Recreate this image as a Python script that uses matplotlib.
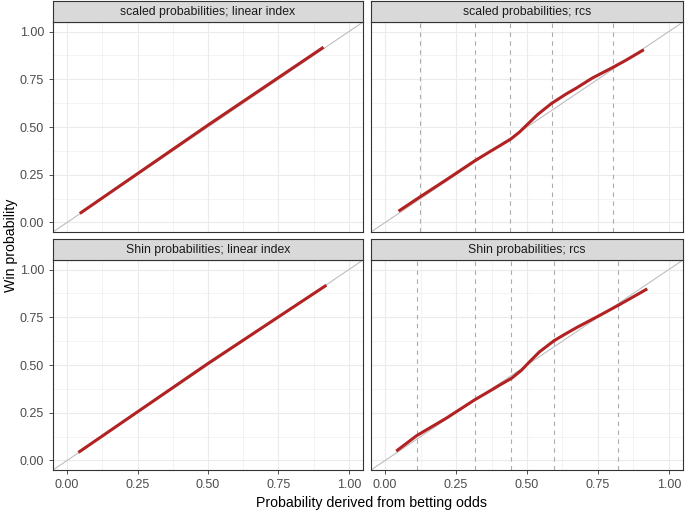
import numpy as np
import matplotlib.pyplot as plt
from matplotlib.ticker import MultipleLocator

plt.rcParams['font.family'] = ['Liberation Sans', 'DejaVu Sans']

titles = ['scaled probabilities; linear index', 'scaled probabilities; rcs',
          'Shin probabilities; linear index', 'Shin probabilities; rcs']

# fitted curves
lin_scaled_x = [0.045, 0.50, 0.910]
lin_scaled_y = [0.047, 0.510, 0.918]
lin_shin_x = [0.040, 0.50, 0.920]
lin_shin_y = [0.042, 0.508, 0.918]

rcs_scaled_x = [0.047, 0.123, 0.216, 0.316, 0.368, 0.404, 0.443, 0.474, 0.503,
                0.538, 0.586, 0.637, 0.673, 0.731, 0.801, 0.848, 0.912]
rcs_scaled_y = [0.059, 0.134, 0.224, 0.323, 0.370, 0.402, 0.437, 0.474, 0.516,
                0.566, 0.623, 0.672, 0.703, 0.757, 0.811, 0.849, 0.905]
rcs_shin_x = [0.039, 0.111, 0.216, 0.316, 0.368, 0.404, 0.446, 0.480, 0.509,
              0.544, 0.596, 0.637, 0.676, 0.754, 0.822, 0.883, 0.924]
rcs_shin_y = [0.049, 0.130, 0.222, 0.318, 0.363, 0.395, 0.431, 0.472, 0.517,
              0.569, 0.628, 0.664, 0.697, 0.758, 0.813, 0.864, 0.899]

knots_scaled = [0.123, 0.316, 0.439, 0.587, 0.804]
knots_shin = [0.111, 0.316, 0.445, 0.596, 0.822]

curves = [(lin_scaled_x, lin_scaled_y, None), (rcs_scaled_x, rcs_scaled_y, knots_scaled),
          (lin_shin_x, lin_shin_y, None), (rcs_shin_x, rcs_shin_y, knots_shin)]

W, H = 685, 514
fig = plt.figure(figsize=(W / 100, H / 100), dpi=100)

lefts = [53, 371]
widths = [310, 312]
tops = [22, 260]
height = 210
strip_h = 21

for i, (cx, cy, knots) in enumerate(curves):
    r, c = divmod(i, 2)
    x0, w = lefts[c], widths[c]
    y0 = tops[r]
    ax = fig.add_axes([x0 / W, 1 - (y0 + height) / H, w / W, height / H])
    ax.set_xlim(-0.05, 1.05)
    ax.set_ylim(-0.05, 1.05)
    ax.xaxis.set_major_locator(MultipleLocator(0.25))
    ax.yaxis.set_major_locator(MultipleLocator(0.25))
    ax.xaxis.set_minor_locator(MultipleLocator(0.125))
    ax.yaxis.set_minor_locator(MultipleLocator(0.125))
    ax.grid(which='major', color='#EBEBEB', linewidth=0.8)
    ax.grid(which='minor', color='#EBEBEB', linewidth=0.4)
    ax.set_axisbelow(True)
    for s in ax.spines.values():
        s.set_color('#333333')
        s.set_linewidth(0.8)
    ax.tick_params(which='minor', length=0)
    ax.tick_params(which='major', length=3, width=0.6, color='#333333',
                   labelcolor='#4D4D4D', labelsize=9)
    if c == 0:
        ax.yaxis.set_major_formatter(lambda v, p: f'{v:.2f}')
    else:
        ax.tick_params(axis='y', length=0, labelleft=False)
    if r == 1:
        ax.xaxis.set_major_formatter(lambda v, p: f'{v:.2f}')
    else:
        ax.tick_params(axis='x', length=0, labelbottom=False)

    ax.plot([-0.05, 1.05], [-0.05, 1.05], color='#BEBEBE', linewidth=0.8, zorder=2)
    if knots:
        for k in knots:
            ax.axvline(k, color='#ABABAB', linewidth=0.8, linestyle=(0, (4, 4)), zorder=1.5)
    ax.plot(cx, cy, color='#B22222', linewidth=2.2, solid_capstyle='butt',
            solid_joinstyle='round', zorder=3)

    sax = fig.add_axes([x0 / W, 1 - (y0) / H, w / W, strip_h / H])
    sax.set_facecolor('#D9D9D9')
    sax.set_xticks([])
    sax.set_yticks([])
    for s in sax.spines.values():
        s.set_color('#333333')
        s.set_linewidth(0.8)
    sax.text(0.5, 0.5, titles[i], ha='center', va='center', fontsize=8.8,
             color='#1A1A1A', transform=sax.transAxes)

fig.text(372 / W, 1 - 503 / H, 'Probability derived from betting odds',
         ha='center', va='center', fontsize=10.2, color='black')
fig.text(11 / W, 1 - 245 / H, 'Win probability', ha='center', va='center',
         rotation=90, fontsize=10.2, color='black')

fig.savefig('out.png', dpi=100)
